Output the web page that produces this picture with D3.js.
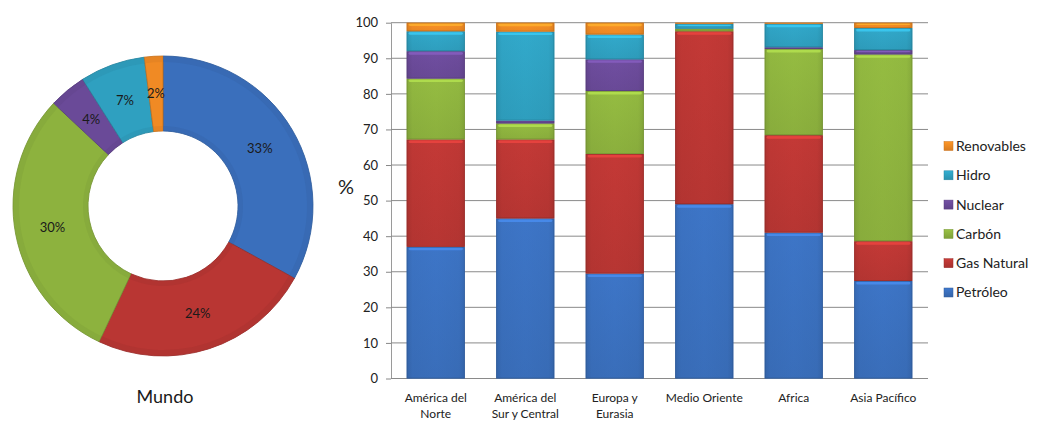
<!DOCTYPE html>
<html><head><meta charset="utf-8">
<script src="https://cdn.jsdelivr.net/npm/d3@7"></script>
<style>body{margin:0;background:#fff;} svg{display:block;font-family:Lato,"Open Sans",sans-serif;}</style>
</head><body>
<svg id="c" width="1049" height="421"></svg>
<script>
const series = ["Petróleo","Gas Natural","Carbón","Nuclear","Hidro","Renovables"];
const colors = ["#3a6fbc","#b93633","#8db23e","#6a4a98","#2fa0c0","#f08a24"];
const mundo = [33,24,30,4,7,2];
const regions = [["América del","Norte"],["América del","Sur y Central"],["Europa y","Eurasia"],["Medio Oriente"],["Africa"],["Asia Pacífico"]];
const petroleo   = [37, 45, 29.5, 49, 41, 27.4];
const gasNatural = [30.2, 22.2, 33.6, 48.6, 27.4, 11.2];
const carbon     = [17.1, 4.5, 17.7, 0.7, 24.2, 52.5];
const nuclear    = [7.7, 0.8, 8.9, 0, 0.5, 1.2];
const hidro      = [5.6, 25, 7, 1.4, 6.6, 6.2];
const renovables = [2.4, 2.5, 3.3, 0.3, 0.3, 1.5];
const yTicks = [0,10,20,30,40,50,60,70,80,90,100];

(function(){
const svg = d3.select("#c");
const defs = svg.append("defs");
colors.forEach((c,i)=>{
  const g = defs.append("linearGradient").attr("id","hg"+i).attr("x1","0").attr("x2","1").attr("y1","0").attr("y2","0");
  const dk = d3.color(c).darker(0.35), lt = d3.color(c).brighter(0.1);
  g.append("stop").attr("offset","0%").attr("stop-color",dk);
  g.append("stop").attr("offset","10%").attr("stop-color",c);
  g.append("stop").attr("offset","50%").attr("stop-color",lt);
  g.append("stop").attr("offset","90%").attr("stop-color",c);
  g.append("stop").attr("offset","100%").attr("stop-color",dk);
  const v = defs.append("linearGradient").attr("id","vg"+i).attr("x1","0").attr("x2","0").attr("y1","0").attr("y2","1");
  v.append("stop").attr("offset","0%").attr("stop-color",d3.color(c).brighter(0.25));
  v.append("stop").attr("offset","100%").attr("stop-color",d3.color(c).darker(0.3));
});

// ---------- Donut ----------
const cx = 163, cy = 206, R = 150, r0 = 75;
const pie = d3.pie().sort(null).value(d=>d);
const arc = d3.arc().innerRadius(r0).outerRadius(R);
const dg = svg.append("g").attr("transform",`translate(${cx},${cy})`);
const arcs = pie(mundo);
dg.selectAll("path.s").data(arcs).join("path").attr("class","s")
  .attr("d",arc).attr("fill",(d,i)=>colors[i])
  .attr("stroke",(d,i)=>d3.color(colors[i]).darker(0.6)).attr("stroke-width",0.8);
const arcHi = d3.arc().innerRadius(R-6).outerRadius(R);
dg.selectAll("path.hi").data(arcs).join("path").attr("class","hi")
  .attr("d",arcHi).attr("fill",(d,i)=>d3.color(colors[i]).darker(0.25)).attr("opacity",0.5);
const arcLo = d3.arc().innerRadius(r0).outerRadius(r0+5);
dg.selectAll("path.lo").data(arcs).join("path").attr("class","lo")
  .attr("d",arcLo).attr("fill",(d,i)=>d3.color(colors[i]).darker(0.25)).attr("opacity",0.5);
dg.selectAll("text").data(arcs).join("text")
  .attr("transform",d=>`translate(${arc.centroid(d)})`)
  .attr("text-anchor","middle").attr("dy","0.35em")
  .attr("font-size",13).attr("fill","#1a1a1a")
  .text(d=>d.data+"%");
svg.append("text").attr("x",165).attr("y",403).attr("text-anchor","middle")
  .attr("font-size",18).attr("fill","#1a1a1a").text("Mundo");

// ---------- Stacked bars ----------
const pLeft = 391, pRight = 928, pTop = 22.7, pBottom = 378.5;
const x = d3.scaleBand().domain(d3.range(regions.length)).range([pLeft,pRight]).paddingInner(0.35).paddingOuter(0.175);
const y = d3.scaleLinear().domain([0,100]).range([pBottom,pTop]);

const gy = svg.append("g").attr("transform",`translate(${pLeft},0)`)
  .call(d3.axisLeft(y).tickValues(yTicks).tickSize(5).tickPadding(8).tickSizeOuter(0));
gy.select(".domain").attr("stroke","#9a9a9a");
gy.selectAll(".tick line").attr("stroke","#888");
gy.selectAll(".tick text").attr("font-size",13).attr("fill","#222").attr("font-family","Lato,'Open Sans',sans-serif");
svg.append("g").selectAll("line").data(yTicks).join("line")
  .attr("x1",pLeft).attr("x2",pRight).attr("y1",d=>y(d)).attr("y2",d=>y(d))
  .attr("stroke","#8a8a8a").attr("stroke-width",1);
svg.append("text").attr("x",346).attr("y",194).attr("text-anchor","middle")
  .attr("font-size",20).attr("fill","#222").text("%");

const data = regions.map((r,i)=>({i, "Petróleo":petroleo[i], "Gas Natural":gasNatural[i], "Carbón":carbon[i], "Nuclear":nuclear[i], "Hidro":hidro[i], "Renovables":renovables[i]}));
const stack = d3.stack().keys(series)(data);
const bars = svg.append("g");
stack.forEach((layer,si)=>{
  const g = bars.append("g");
  layer.forEach((d,ci)=>{
    const y0 = y(d[0]), y1 = y(d[1]), h = y0-y1;
    if (h <= 0) return;
    g.append("rect").attr("x",x(ci)).attr("y",y1).attr("width",x.bandwidth()).attr("height",h)
      .attr("fill",`url(#hg${si})`);
    g.append("rect").attr("x",x(ci)).attr("y",y1).attr("width",x.bandwidth()).attr("height",h)
      .attr("fill",`url(#vg${si})`).attr("opacity",0.35);
    if (h > 3) {
      g.append("rect").attr("x",x(ci)+2).attr("y",y1+0.5).attr("width",x.bandwidth()-4).attr("height",Math.min(3,h/3))
        .attr("rx",1.5).attr("fill",d3.color(colors[si]).brighter(0.7)).attr("opacity",0.8);
    }
    g.append("rect").attr("x",x(ci)+0.5).attr("y",y1+0.5).attr("width",x.bandwidth()-1).attr("height",Math.max(0,h-1))
      .attr("fill","none").attr("stroke",d3.color(colors[si]).darker(0.8)).attr("stroke-width",0.8).attr("opacity",0.6);
  });
});

const xl = svg.append("g");
regions.forEach((lines,i)=>{
  const cxb = x(i)+x.bandwidth()/2;
  const t = xl.append("text").attr("x",cxb).attr("y",402)
    .attr("text-anchor","middle").attr("font-size",12).attr("fill","#222");
  lines.forEach((ln,k)=>t.append("tspan").attr("x",cxb).attr("dy",k?15.5:0).text(ln));
});

const legOrder = [5,4,3,2,1,0];
const lg = svg.append("g");
legOrder.forEach((si,k)=>{
  const yy = 146 + k*29.3;
  lg.append("rect").attr("x",944).attr("y",yy-4.5).attr("width",9).attr("height",9)
    .attr("fill",`url(#vg${si})`).attr("stroke",d3.color(colors[si]).darker(0.5)).attr("stroke-width",0.5);
  lg.append("text").attr("x",956).attr("y",yy).attr("dy","0.35em")
    .attr("font-size",14).attr("fill","#222").text(series[si]);
});
})();
</script>
</body></html>
